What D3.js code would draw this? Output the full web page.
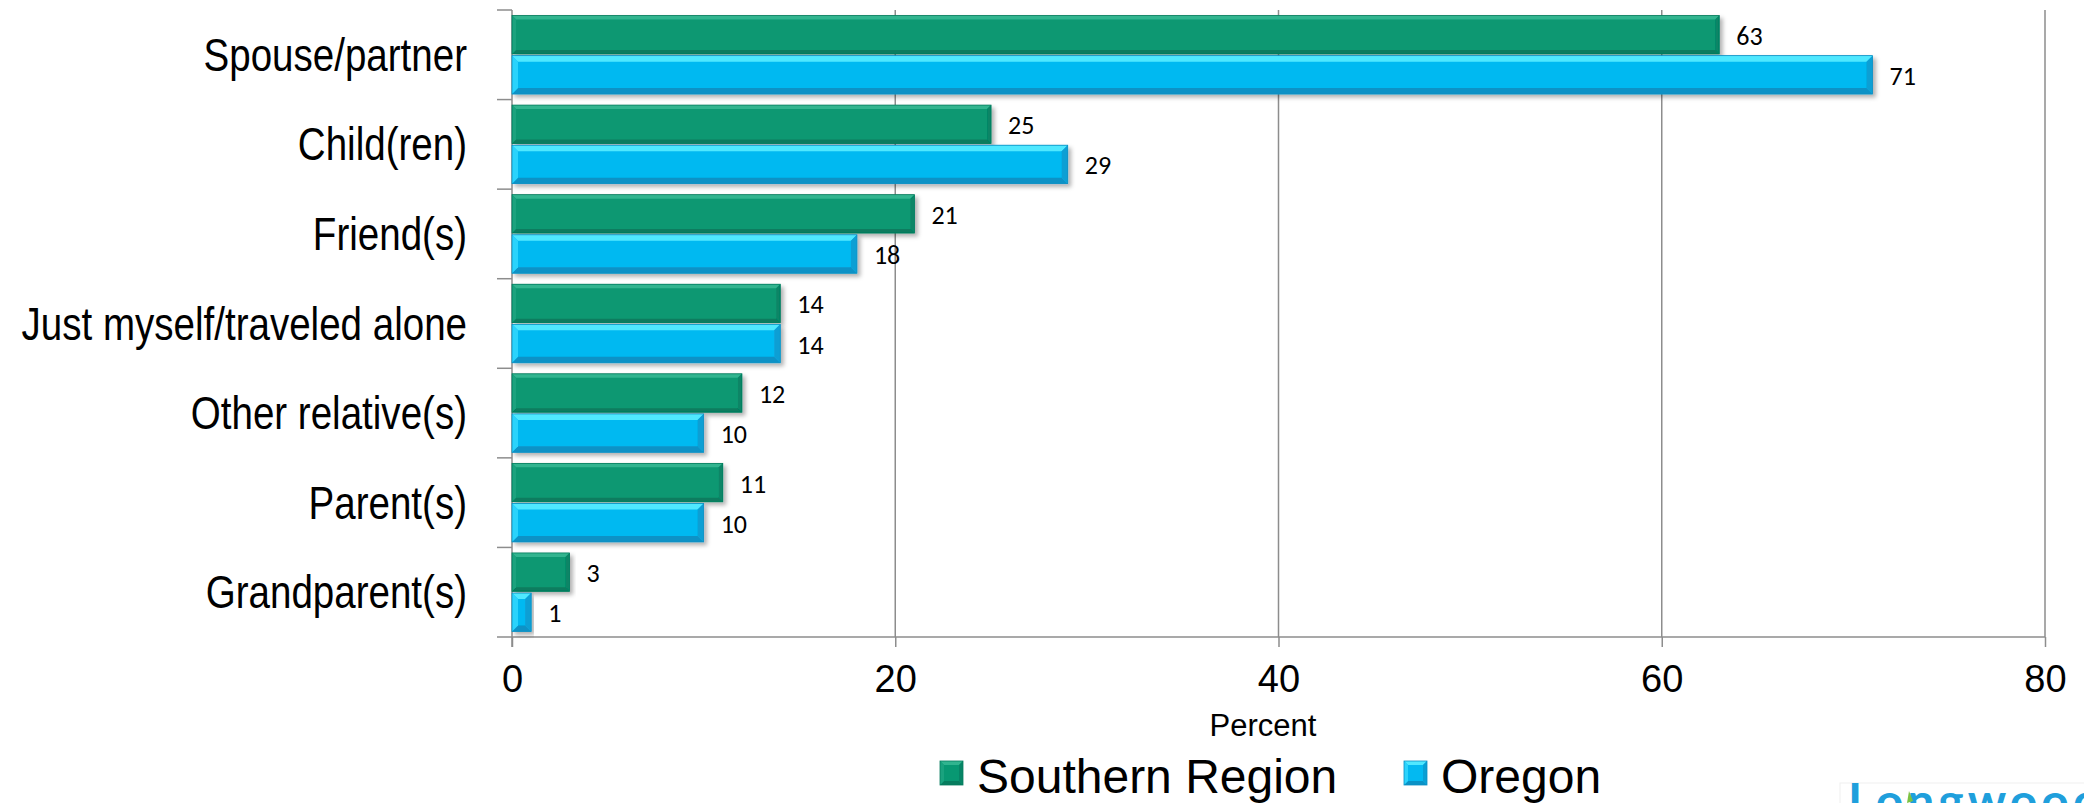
<!DOCTYPE html>
<html>
<head>
<meta charset="utf-8">
<script src="https://cdn.jsdelivr.net/npm/d3@7/dist/d3.min.js"></script>
<style>
  html, body { margin: 0; padding: 0; background: #ffffff; }
  svg { display: block; }
</style>
</head>
<body>
<svg id="chart" width="2084" height="803"></svg>
<script>
// Who respondents travelled with, by region (percent)
const categories = [
  "Spouse/partner",
  "Child(ren)",
  "Friend(s)",
  "Just myself/traveled alone",
  "Other relative(s)",
  "Parent(s)",
  "Grandparent(s)"
];
const seriesNames = ["Southern Region", "Oregon"];
const southernRegion = [63, 25, 21, 14, 12, 11, 3];
const oregon = [71, 29, 18, 14, 10, 10, 1];
const xTicks = [0, 20, 40, 60, 80];
const xAxisTitle = "Percent";
const logoText = "Longwoods";

const svg = d3.select("#chart");
const W = 2084, H = 803;
const plot = { left: 512, right: 2045, top: 10, bottom: 637 };

// colour sets for the bevelled bars
const palettes = {
  "Southern Region": { base: "#089872", top: "#31b48f", left: "#1aa27e", bottom: "#077c5e", right: "#078566", stroke: "#067c5e" },
  "Oregon":          { base: "#03b9f1", top: "#50e8ff", left: "#2cd3fc", bottom: "#0a92c6", right: "#0a9fd4", stroke: "#0a8fc2" }
};

const rows = categories.map((c, i) => ({
  category: c,
  values: [
    { series: seriesNames[0], value: southernRegion[i] },
    { series: seriesNames[1], value: oregon[i] }
  ]
}));

const x = d3.scaleLinear().domain([0, 80]).range([plot.left, plot.right]);
const y = d3.scaleBand().domain(categories).range([plot.top, plot.bottom]).paddingInner(0).paddingOuter(0);
const ySub = d3.scaleBand().domain(seriesNames).range([0, y.bandwidth()]).paddingInner(0.0425).paddingOuter(0.1375);

// drop shadow for the bars
const defs = svg.append("defs");
const shadow = defs.append("filter").attr("id", "barShadow")
  .attr("x", "-5%").attr("y", "-20%").attr("width", "115%").attr("height", "160%");
shadow.append("feDropShadow")
  .attr("dx", 3).attr("dy", 3).attr("stdDeviation", 2.2)
  .attr("flood-color", "#000").attr("flood-opacity", 0.3);

svg.append("rect").attr("width", W).attr("height", H).attr("fill", "#fff");

// vertical gridlines
const gridColor = "#8d8d8d";
svg.append("g")
  .selectAll("line")
  .data(xTicks.filter(t => t > 0))
  .join("line")
  .attr("x1", d => x(d)).attr("x2", d => x(d))
  .attr("y1", plot.top).attr("y2", plot.bottom)
  .attr("stroke", gridColor).attr("stroke-width", 1.5);

// bottom axis with tick marks and labels
const xAxis = d3.axisBottom(x).tickValues(xTicks).tickSize(10).tickPadding(18).tickFormat(d3.format("d"));
const xg = svg.append("g").attr("transform", `translate(0,${plot.bottom})`).call(xAxis);
xg.select(".domain").remove();
xg.selectAll(".tick line").attr("stroke", gridColor).attr("stroke-width", 1.5);
xg.selectAll(".tick text")
  .attr("fill", "#000")
  .attr("font-family", "'Liberation Sans', Arial, sans-serif")
  .attr("font-size", 38)
  .attr("dy", "0.71em");

// horizontal base line
svg.append("line")
  .attr("x1", plot.left - 15).attr("x2", plot.right)
  .attr("y1", plot.bottom).attr("y2", plot.bottom)
  .attr("stroke", gridColor).attr("stroke-width", 1.5);

// category axis line and band ticks
svg.append("line")
  .attr("x1", plot.left).attr("x2", plot.left)
  .attr("y1", plot.top).attr("y2", plot.bottom + 10)
  .attr("stroke", gridColor).attr("stroke-width", 1.5);
svg.append("g")
  .selectAll("line")
  .data(categories)
  .join("line")
  .attr("x1", plot.left - 15).attr("x2", plot.left)
  .attr("y1", d => y(d)).attr("y2", d => y(d))
  .attr("stroke", gridColor).attr("stroke-width", 1.5);

// category labels (narrow setting)
svg.append("g")
  .selectAll("text")
  .data(categories)
  .join("text")
  .attr("transform", d => `translate(467,${y(d) + y.bandwidth() / 2 + 16}) scale(0.82,1)`)
  .attr("text-anchor", "end")
  .attr("font-family", "'Liberation Sans', Arial, sans-serif")
  .attr("font-size", 47)
  .attr("fill", "#000")
  .text(d => d);

// a bevelled bar: flat face, four sloped edges
function bevelBar(g, x0, y0, w, h, pal, size) {
  const b = Math.min(size, w / 2, h / 2);
  const x1 = x0 + w, y1 = y0 + h;
  g.append("rect").attr("x", x0).attr("y", y0).attr("width", w).attr("height", h).attr("fill", pal.base);
  const poly = (pts, fill) => g.append("polygon").attr("points", pts.map(p => p.join(",")).join(" ")).attr("fill", fill);
  poly([[x0, y0], [x1, y0], [x1 - b, y0 + b], [x0 + b, y0 + b]], pal.top);
  poly([[x0, y1], [x1, y1], [x1 - b, y1 - b], [x0 + b, y1 - b]], pal.bottom);
  poly([[x0, y0], [x0 + b, y0 + b], [x0 + b, y1 - b], [x0, y1]], pal.left);
  poly([[x1, y0], [x1 - b, y0 + b], [x1 - b, y1 - b], [x1, y1]], pal.right);
  g.append("rect").attr("x", x0).attr("y", y0).attr("width", w).attr("height", h)
    .attr("fill", "none").attr("stroke", pal.stroke).attr("stroke-width", 0.8);
}

// bars
const barLayer = svg.append("g");
rows.forEach(r => {
  r.values.forEach(v => {
    const g = barLayer.append("g").attr("filter", "url(#barShadow)");
    bevelBar(g, x(0), y(r.category) + ySub(v.series), x(v.value) - x(0), ySub.bandwidth(),
      palettes[v.series], v.series === seriesNames[1] ? 6 : 4);
  });
});

// value labels
const labelLayer = svg.append("g");
rows.forEach(r => {
  r.values.forEach(v => {
    labelLayer.append("text")
      .attr("x", x(v.value) + 17)
      .attr("y", y(r.category) + ySub(v.series) + ySub.bandwidth() / 2 + 10)
      .attr("font-family", "Carlito, Lato, 'Open Sans', sans-serif")
      .attr("font-size", 26)
      .attr("fill", "#000")
      .text(d3.format("d")(v.value));
  });
});

// axis title
svg.append("text")
  .attr("x", 1263).attr("y", 736)
  .attr("text-anchor", "middle")
  .attr("font-family", "'Liberation Sans', Arial, sans-serif")
  .attr("font-size", 31)
  .attr("fill", "#000")
  .text(xAxisTitle);

// legend
const legendItems = [
  { name: seriesNames[0], sx: 940, tx: 977 },
  { name: seriesNames[1], sx: 1404, tx: 1441 }
];
legendItems.forEach(it => {
  const g = svg.append("g");
  bevelBar(g, it.sx, 761, 23, 24, palettes[it.name], 4);
  svg.append("text")
    .attr("x", it.tx).attr("y", 793)
    .attr("font-family", "'Liberation Sans', Arial, sans-serif")
    .attr("font-size", 48)
    .attr("fill", "#000")
    .text(it.name);
});

// logo peeking in at the lower right
svg.append("rect")
  .attr("x", 1840).attr("y", 783).attr("width", 260).attr("height", 40)
  .attr("fill", "none").attr("stroke", "#f0f0f0").attr("stroke-width", 1);
svg.append("text")
  .attr("x", 1848).attr("y", 818)
  .attr("font-family", "Lato, 'Open Sans', sans-serif")
  .attr("font-weight", 700)
  .attr("font-size", 48)
  .attr("letter-spacing", 4)
  .attr("fill", "#1f9fdc")
  .text(logoText);
svg.append("path")
  .attr("d", "M1907,803 L1909,791 L1913,801 Z")
  .attr("fill", "#7cc242");
</script>
</body>
</html>
